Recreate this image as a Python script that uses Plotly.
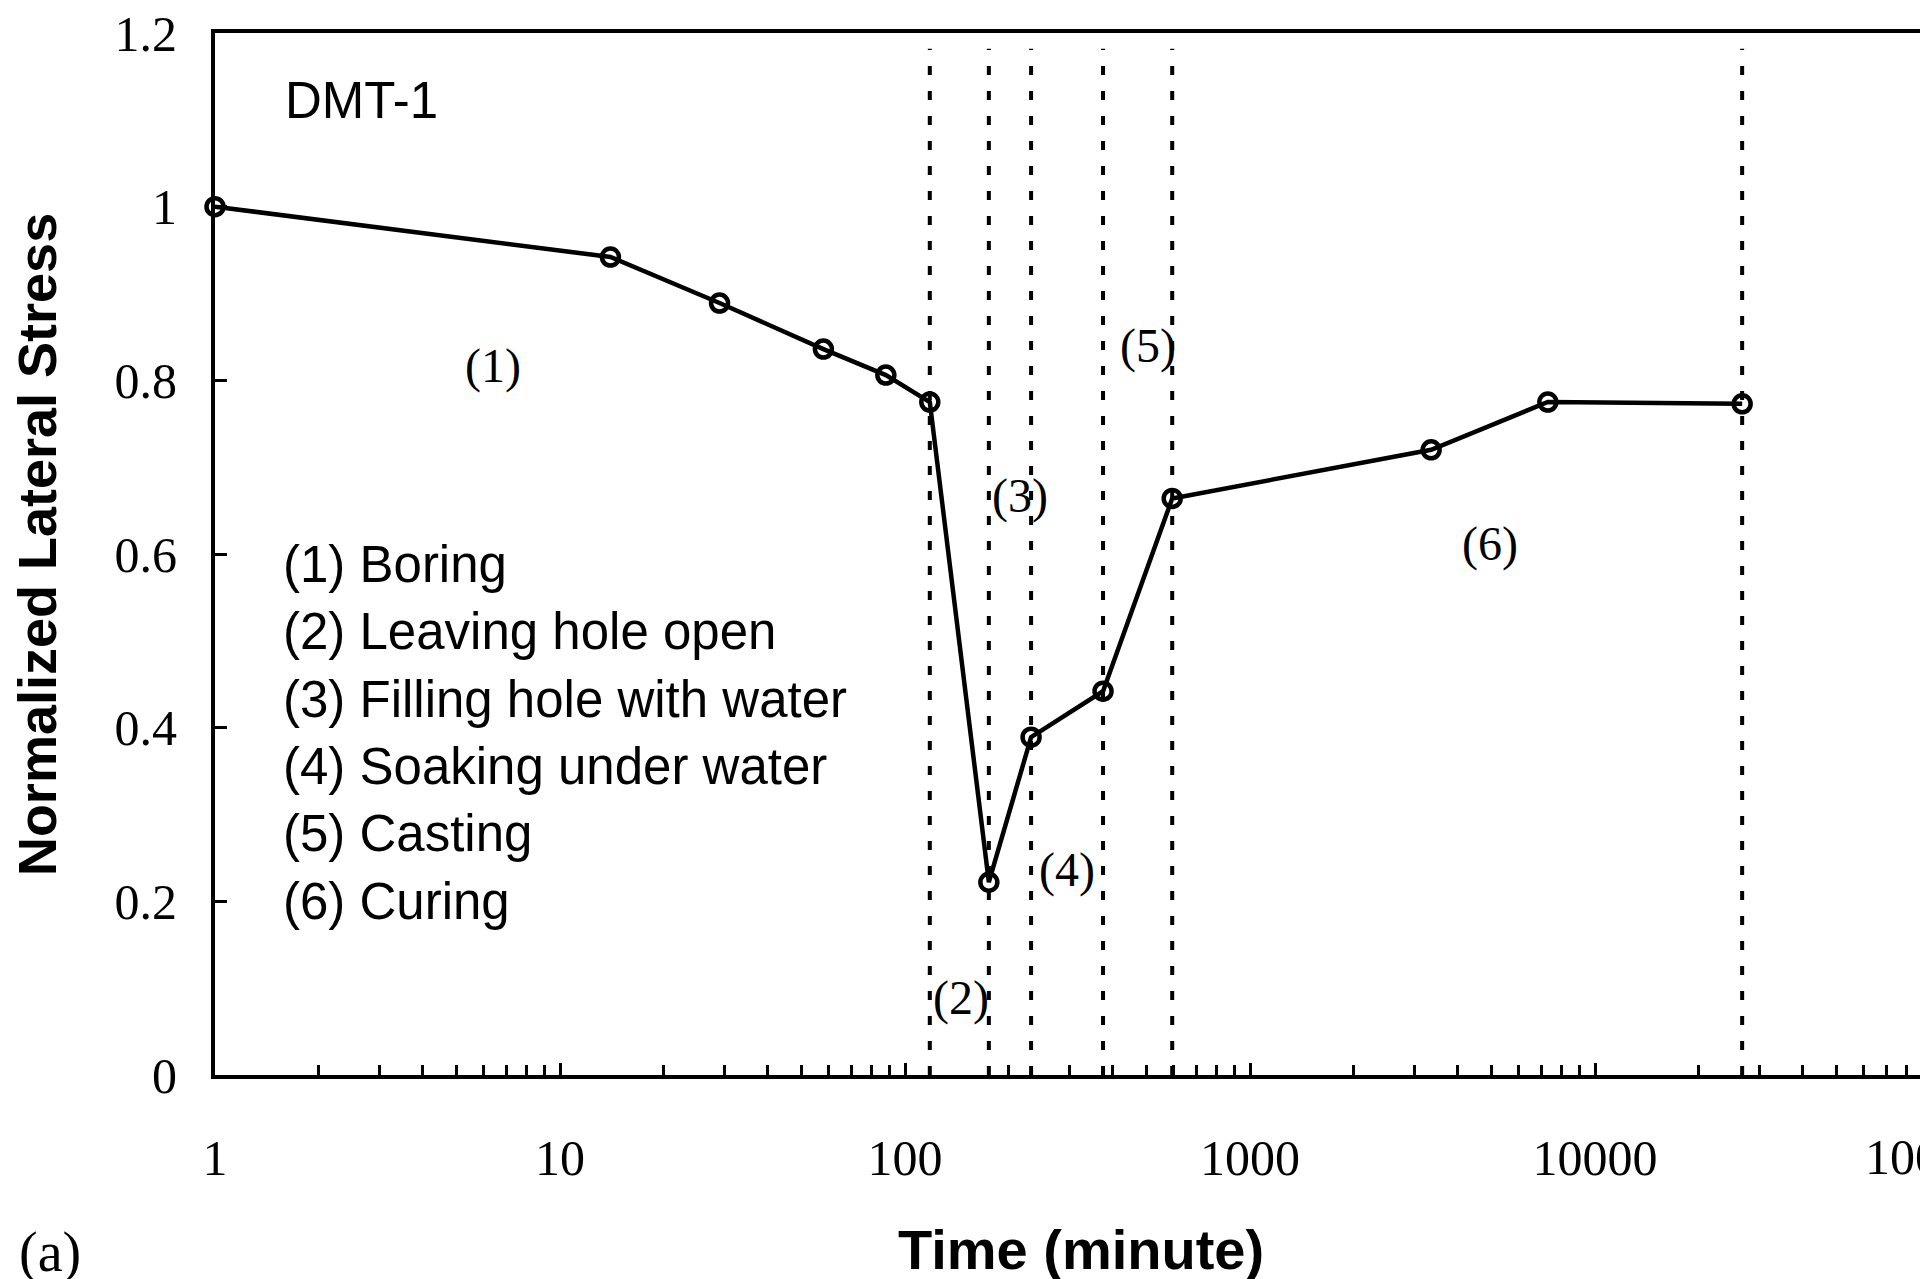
import numpy as np
import plotly.graph_objects as go

# ---- data ----
time_min = [1, 14, 29, 58, 88, 118, 175, 232, 375, 595, 3350, 7300, 26700]
norm_stress = [1.0, 0.942, 0.889, 0.836, 0.806, 0.775, 0.222, 0.389, 0.442, 0.664, 0.72, 0.775, 0.773]
stage_bounds = [118, 175, 232, 375, 595, 26700]
x_tick_vals = [1, 10, 100, 1000, 10000]
x_tick_text = ["1", "10", "100", "1000", "10000"]
y_tick_vals = [0, 0.2, 0.4, 0.6, 0.8, 1.0, 1.2]
y_tick_text = ["0", "0.2", "0.4", "0.6", "0.8", "1", "1.2"]
stage_labels = ["(1)", "(2)", "(3)", "(4)", "(5)", "(6)"]
stage_label_x = [6.4, 145, 215, 295, 506, 4955]
stage_label_y = [0.816, 0.089, 0.667, 0.236, 0.839, 0.611]
legend_lines = ["(1) Boring", "(2) Leaving hole open", "(3) Filling hole with water",
                "(4) Soaking under water", "(5) Casting", "(6) Curing"]

W, H = 1920, 1279
ML, MR, MT, MB = 215, 0, 33, 204
decade_px = 345.0
x_max_log = (W - ML - MR) / decade_px
serif = "Liberation Serif, Times New Roman, serif"
sans = "Liberation Sans, Arial, sans-serif"

fig = go.Figure()
fig.add_trace(go.Scatter(
    x=time_min, y=norm_stress, mode="lines+markers",
    line=dict(color="black", width=4.5),
    marker=dict(symbol="circle-open", size=17, color="black", line=dict(width=4.5)),
    showlegend=False, cliponaxis=False))

for b in stage_bounds:
    fig.add_shape(type="line", xref="x", yref="paper", x0=b, x1=b, y0=0, y1=0.985,
                  line=dict(color="black", width=4, dash="9px,16px"), layer="below")

annotations = []
for t, lx, ly in zip(stage_labels, stage_label_x, stage_label_y):
    annotations.append(dict(x=np.log10(lx), y=ly, xref="x", yref="y", text=t, showarrow=False,
                            xanchor="center",
                            font=dict(family=serif, size=48, color="black")))
leg_y0, leg_dy = 0.588, 0.0776
for i, t in enumerate(legend_lines):
    annotations.append(dict(x=np.log10(1.55), y=leg_y0 - i * leg_dy, xref="x", yref="y", text=t,
                            showarrow=False, xanchor="left",
                            font=dict(family=sans, size=51, color="black")))
annotations.append(dict(x=np.log10(2.65), y=1.122, xref="x", yref="y", text="DMT-1", showarrow=False,
                        xanchor="center",
                        font=dict(family=sans, size=51, color="black")))
# clipped tick label at 100000
annotations.append(dict(x=5.0 / x_max_log, y=-0.0787, xref="paper", yref="paper", text="100000",
                        showarrow=False, xanchor="center", yanchor="middle",
                        font=dict(family=serif, size=50, color="black")))
annotations.append(dict(x=0.508, y=-0.167, xref="paper", yref="paper", text="<b>Time (minute)</b>",
                        showarrow=False, xanchor="center", yanchor="middle",
                        font=dict(family=sans, size=56, color="black")))
annotations.append(dict(x=-0.1047, y=0.509, xref="paper", yref="paper",
                        text="<b>Normalized Lateral Stress</b>", textangle=-90,
                        showarrow=False, xanchor="center", yanchor="middle",
                        font=dict(family=sans, size=54, color="black")))
annotations.append(dict(x=-0.097, y=-0.170, xref="paper", yref="paper", text="(a)",
                        showarrow=False, xanchor="center", yanchor="middle",
                        font=dict(family=serif, size=56, color="black")))

fig.update_layout(
    width=W, height=H, margin=dict(l=ML, r=MR, t=MT, b=MB),
    paper_bgcolor="white", plot_bgcolor="white",
    annotations=annotations,
    xaxis=dict(type="log", range=[0, x_max_log], showgrid=False, zeroline=False,
               showline=True, linecolor="black", linewidth=4, mirror=True,
               ticks="inside", ticklen=12, tickwidth=2.5, tickcolor="black",
               tickvals=x_tick_vals, ticktext=x_tick_text, ticklabelstandoff=36,
               tickfont=dict(family=serif, size=50, color="black"),
               minor=dict(ticks="inside", ticklen=10, tickwidth=2.5, tickcolor="black",
                          dtick="D1", showgrid=False)),
    yaxis=dict(range=[0, 1.2], showgrid=False, zeroline=False,
               showline=True, linecolor="black", linewidth=4,
               ticks="inside", ticklen=12, tickwidth=2.5, tickcolor="black",
               tickvals=y_tick_vals, ticktext=y_tick_text, ticklabelstandoff=24,
               tickfont=dict(family=serif, size=50, color="black")),
)

fig.write_html("out.html")
